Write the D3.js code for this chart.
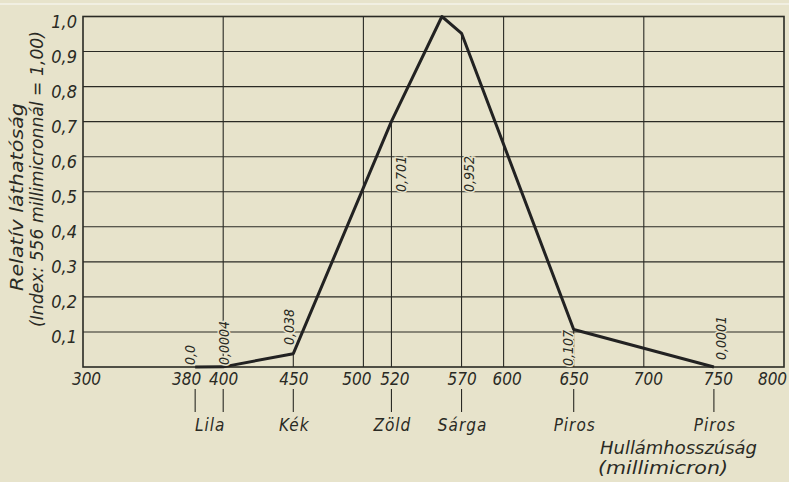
<!DOCTYPE html>
<html>
<head>
<meta charset="utf-8">
<script src="https://cdn.jsdelivr.net/npm/d3@7"></script>
<style>
  html, body { margin: 0; padding: 0; background: #e7e3cb; }
  svg { display: block; }
  text { font-family: "Liberation Sans Narrow", "DejaVu Sans Condensed", sans-serif; font-style: italic; fill: #2a2a24; }
</style>
</head>
<body>
<svg id="chart" width="789" height="482"></svg>
<script>
// relative visibility curve
var wavelengths = [380, 400, 450, 520, 556, 570, 650, 750];
var visibility  = [0.0, 0.0004, 0.038, 0.701, 1.0, 0.952, 0.107, 0.0001];
var valueLabels = ['0,0', '0,0004', '0,038', '0,701', '', '0,952', '0,107', '0,0001'];

var xTicks = [300, 380, 400, 450, 500, 520, 570, 600, 650, 700, 750, 800];
var yTicks = [0.1, 0.2, 0.3, 0.4, 0.5, 0.6, 0.7, 0.8, 0.9, 1.0];
var xGrid  = [400, 500, 600, 700];

var colorNames = ['Lila', 'Kék', 'Zöld', 'Sárga', 'Piros', 'Piros'];
var colorMarks = [[380, 400], [450], [520], [570], [650], [750]];

var yTitle  = ['Relatív láthatóság', '(Index: 556 millimicronnál = 1,00)'];
var xTitle  = ['Hullámhosszúság', '(millimicron)'];

var svg = d3.select('#chart')
var ink = '#2a2a24'

var x = d3.scaleLinear().domain([300, 800]).range([83, 784])
var y = d3.scaleLinear().domain([0, 1]).range([367, 16.5])

// scan edge line
svg.append('line')
    .attr('x1', 0).attr('x2', 789).attr('y1', 4).attr('y2', 4)
    .attr('stroke', '#f5f3ea').attr('stroke-width', 1.5)

// grid
svg.append('g').selectAll('line')
    .data(yTicks.slice(0, -1))
    .enter().append('line')
    .attr('x1', x(300)).attr('x2', x(800))
    .attr('y1', d => y(d)).attr('y2', d => y(d))
    .attr('stroke', ink).attr('stroke-width', 1.1)

svg.append('g').selectAll('line')
    .data(xGrid)
    .enter().append('line')
    .attr('x1', d => x(d)).attr('x2', d => x(d))
    .attr('y1', y(0)).attr('y2', y(1))
    .attr('stroke', ink).attr('stroke-width', 1.1)

// drop lines from the measured points
svg.append('g').selectAll('line')
    .data(wavelengths.map((w, i) => ({w: w, v: visibility[i]})).filter(d => d.w != 556))
    .enter().append('line')
    .attr('x1', d => x(d.w)).attr('x2', d => x(d.w))
    .attr('y1', d => y(d.v)).attr('y2', y(0))
    .attr('stroke', ink).attr('stroke-width', 1.1)

svg.append('rect')
    .attr('x', x(300)).attr('y', y(1))
    .attr('width', x(800) - x(300)).attr('height', y(0) - y(1))
    .attr('fill', 'none').attr('stroke', ink).attr('stroke-width', 1.6)

// y axis
var yAxis = svg.append('g')
    .attr('transform', 'translate(' + x(300) + ',0)')
    .call(d3.axisLeft(y).tickValues(yTicks).tickSize(0).tickPadding(6)
        .tickFormat(d => d3.format('.1f')(d).replace('.', ',')))
yAxis.select('.domain').remove()
yAxis.selectAll('text')
    .attr('dy', 11)
    .style('font-size', '18px').style('font-family', null)

// x axis
var xShift = {300: 3, 380: -9, 500: -7, 520: 3, 600: 3, 700: 4, 750: 4, 800: -12}
var xAxis = svg.append('g')
    .attr('transform', 'translate(0,' + y(0) + ')')
    .call(d3.axisBottom(x).tickValues(xTicks).tickSize(0).tickPadding(6)
        .tickFormat(d3.format('d')))
xAxis.select('.domain').remove()
xAxis.selectAll('text')
    .attr('dx', d => xShift[d] || 0)
    .attr('dy', '0.72em')
    .style('font-size', '17px').style('font-family', null)

// colour name markers below the axis
var marks = svg.append('g')
colorNames.forEach(function(name, i) {
    var ws = colorMarks[i]
    ws.forEach(function(w) {
        marks.append('line')
            .attr('x1', x(w)).attr('x2', x(w))
            .attr('y1', 389).attr('y2', 412)
            .attr('stroke', ink).attr('stroke-width', 1.1)
    })
    marks.append('text')
        .attr('x', x(d3.mean(ws)) + 1)
        .attr('y', 431)
        .attr('text-anchor', 'middle')
        .style('font-size', '17px')
        .style('letter-spacing', '1px')
        .text(name)
})

// curve
var line = d3.line()
    .x((d, i) => x(wavelengths[i]))
    .y(d => y(d))

svg.append('path')
    .datum(visibility)
    .attr('d', line)
    .attr('fill', 'none')
    .attr('stroke', '#222')
    .attr('stroke-width', 3)
    .attr('stroke-linejoin', 'round')

// value labels (rotated, reading upwards)
var labelPlace = {380: [-5, 365], 400: [1, 365], 450: [-4, 345], 520: [10, 192],
                  570: [8, 192], 650: [-6, 366], 750: [7, 360]}
svg.append('g').selectAll('text')
    .data(wavelengths.map((w, i) => ({w: w, t: valueLabels[i]})).filter(d => d.t))
    .enter().append('text')
    .attr('transform', d => 'translate(' + (x(d.w) + labelPlace[d.w][0]) + ',' + labelPlace[d.w][1] + ') rotate(-90)')
    .attr('dy', '0.35em')
    .style('font-size', '14px')
    .style('paint-order', 'stroke')
    .style('stroke', '#e7e3cb').style('stroke-width', 3)
    .text(d => d.t)

// axis titles
svg.append('text')
    .attr('transform', 'translate(23,197) rotate(-90)')
    .attr('text-anchor', 'middle')
    .attr('textLength', 188).attr('lengthAdjust', 'spacingAndGlyphs')
    .style('font-size', '18px')
    .text(yTitle[0])
svg.append('text')
    .attr('transform', 'translate(43,179) rotate(-90)')
    .attr('text-anchor', 'middle')
    .attr('textLength', 296).attr('lengthAdjust', 'spacingAndGlyphs')
    .style('font-size', '18px')
    .text(yTitle[1])

svg.append('text')
    .attr('x', 600).attr('y', 454)
    .attr('textLength', 157).attr('lengthAdjust', 'spacingAndGlyphs')
    .style('font-size', '17px')
    .text(xTitle[0])
svg.append('text')
    .attr('x', 598).attr('y', 474)
    .attr('textLength', 130).attr('lengthAdjust', 'spacingAndGlyphs')
    .style('font-size', '17px')
    .text(xTitle[1])
</script>
</body>
</html>
